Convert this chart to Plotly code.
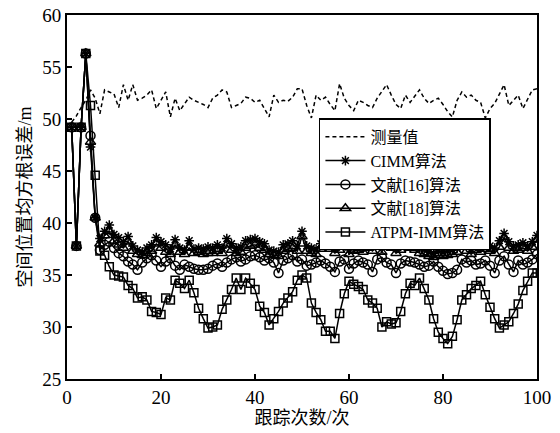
import plotly.graph_objects as go

x = list(range(1, 101))

measured = [49.7, 50.3, 51.1, 51.8, 52.8, 52.0, 50.5, 52.8, 52.6, 52.4,
            51.1, 53.3, 51.8, 53.3, 51.8, 52.0, 52.3, 52.8, 51.0, 51.8,
            52.6, 50.2, 52.0, 50.8, 51.5, 52.1, 51.8, 51.6, 51.4, 51.1,
            52.0, 52.3, 52.8, 52.6, 51.1, 51.3, 51.5, 52.1, 52.0, 51.6,
            51.8, 51.0, 50.2, 52.3, 51.6, 51.8, 51.7, 52.1, 52.9, 52.9,
            51.3, 50.1, 52.3, 51.8, 52.1, 51.4, 50.8, 53.4, 52.0, 51.3,
            50.8, 51.8, 51.6, 51.3, 51.1, 52.0, 52.7, 53.3, 52.3, 51.4,
            51.0, 52.3, 51.6, 52.2, 52.8, 52.0, 51.5, 51.8, 52.0, 51.4,
            50.7, 50.2, 51.8, 52.6, 52.1, 52.3, 51.8, 51.6, 50.1, 51.0,
            51.5, 52.4, 53.3, 51.3, 51.8, 52.3, 51.0, 51.9, 52.8, 52.9]

cimm = [49.2, 37.8, 49.2, 56.3, 47.3, 40.5, 38.5, 39.2, 39.8, 38.9,
        38.6, 38.2, 38.7, 37.8, 37.4, 37.2, 37.6, 37.9, 38.6, 38.2,
        37.9, 37.5, 38.4, 37.6, 37.4, 38.3, 37.5, 37.6, 37.5, 37.7,
        37.6, 37.9, 37.6, 38.5, 38.0, 37.6, 37.7, 38.3, 38.4, 38.5,
        38.2, 38.0, 37.4, 37.3, 37.2, 37.9, 38.0, 38.3, 37.8, 39.2,
        37.8, 37.6, 37.5, 38.0, 38.4, 38.1, 37.6, 38.0, 39.3, 37.4,
        37.8, 38.0, 37.7, 38.2, 37.9, 38.5, 37.7, 38.6, 38.3, 37.6,
        38.0, 38.3, 38.2, 37.9, 37.6, 37.5, 37.2, 37.1, 37.3, 37.2,
        37.3, 37.4, 37.6, 38.9, 37.8, 37.5, 37.9, 37.6, 38.0, 37.8,
        37.6, 38.3, 39.0, 38.2, 37.8, 37.9, 38.1, 37.8, 38.2, 38.8]

ref16 = [49.2, 37.8, 49.2, 56.3, 48.4, 40.5, 37.4, 37.9, 38.2, 37.6,
         37.1, 36.8, 36.3, 36.0, 35.5, 36.2, 36.6, 36.9, 36.4, 35.8,
         36.3, 36.6, 35.9, 35.5, 36.0, 35.8, 35.6, 35.5, 35.5, 35.6,
         35.9, 36.1, 35.8, 36.2, 36.5, 36.7, 36.3, 36.5, 36.8, 36.9,
         36.7, 36.4, 36.6, 36.2, 35.2, 36.4, 36.6, 36.9, 36.3, 36.5,
         35.9, 36.0, 36.2, 36.4, 36.1, 35.8, 35.3, 36.3, 36.5, 35.6,
         36.1, 36.4, 36.2, 36.0, 35.3, 36.5, 36.7, 36.2, 36.0, 35.2,
         36.1, 36.4, 36.3, 36.2, 36.0, 35.8, 35.9, 36.3, 35.8, 35.4,
         35.1, 35.2, 35.5, 36.5, 36.2, 36.4, 36.0, 36.1, 36.4, 35.9,
         35.2, 36.4, 36.8, 36.0, 35.3, 36.4, 36.0, 36.2, 36.5, 37.0]

ref18 = [49.2, 37.8, 49.2, 56.3, 47.8, 40.5, 38.0, 38.8, 39.2, 38.3,
         37.9, 37.6, 38.2, 37.3, 37.0, 36.9, 37.1, 37.3, 38.0, 37.6,
         37.2, 37.0, 37.9, 37.2, 37.0, 37.6, 37.1, 37.2, 37.0, 37.1,
         37.1, 37.3, 37.1, 37.9, 37.4, 37.1, 37.2, 37.6, 37.8, 37.9,
         37.6, 37.4, 37.0, 36.9, 36.8, 37.3, 37.5, 37.6, 37.3, 38.7,
         37.3, 37.1, 37.0, 37.5, 37.7, 37.5, 37.1, 37.4, 38.8, 37.0,
         37.3, 37.4, 37.2, 37.6, 37.3, 37.8, 37.2, 38.2, 37.6, 37.1,
         37.4, 37.7, 37.6, 37.4, 37.1, 37.0, 36.8, 36.7, 36.9, 36.8,
         36.9, 37.0, 37.2, 38.5, 37.3, 37.0, 37.4, 37.2, 37.5, 37.3,
         37.1, 37.7, 38.6, 37.6, 37.3, 37.4, 37.6, 37.3, 37.7, 38.4]

atpm = [49.2, 37.8, 49.2, 56.3, 51.3, 44.6, 37.3, 36.9, 35.8, 35.0,
        34.9, 34.8, 34.0, 33.7, 32.8, 32.9, 32.6, 31.5, 31.4, 31.2,
        32.8, 32.6, 34.5, 34.2, 33.7, 34.5, 33.3, 31.8, 30.8, 29.9,
        30.0, 30.2, 31.7, 32.6, 33.6, 34.7, 33.6, 34.7, 34.2, 33.6,
        32.0, 31.4, 30.2, 30.8, 31.5, 32.3, 32.8, 33.4, 34.5, 35.0,
        34.7, 32.3, 31.4, 30.7, 29.6, 29.6, 28.9, 31.3, 33.2, 34.4,
        34.1, 33.9, 33.6, 32.6, 32.3, 31.8, 30.0, 30.5, 30.3, 30.4,
        31.5, 33.2, 34.2, 34.0, 34.7, 33.7, 32.6, 30.8, 29.5, 28.9,
        28.4, 29.1, 30.7, 32.6, 33.1, 33.7, 34.0, 34.4, 33.1, 31.9,
        30.8, 29.9, 30.2, 30.5, 31.3, 32.2, 33.5, 34.4, 35.2, 35.2]

names = ["测量值", "CIMM算法", "文献[16]算法", "文献[18]算法", "ATPM-IMM算法"]
x_ticks = [0, 20, 40, 60, 80, 100]
y_ticks = [25, 30, 35, 40, 45, 50, 55, 60]

FONT = "Liberation Serif, Times New Roman, Noto Sans CJK SC"

fig = go.Figure()
fig.add_trace(go.Scatter(x=x, y=measured, name=names[0], mode="lines",
                         line=dict(color="black", width=1.5, dash="4px,3px")))
fig.add_trace(go.Scatter(x=x, y=cimm, name=names[1], mode="lines+markers",
                         line=dict(color="black", width=1.5),
                         marker=dict(symbol="asterisk-open", size=8, color="black",
                                     line=dict(color="black", width=1.5))))
fig.add_trace(go.Scatter(x=x, y=ref16, name=names[2], mode="lines+markers",
                         line=dict(color="black", width=1.5),
                         marker=dict(symbol="circle-open", size=9, color="black",
                                     line=dict(color="black", width=1.5))))
fig.add_trace(go.Scatter(x=x, y=ref18, name=names[3], mode="lines+markers",
                         line=dict(color="black", width=1.5),
                         marker=dict(symbol="triangle-up-open", size=9, color="black",
                                     line=dict(color="black", width=1.5))))
fig.add_trace(go.Scatter(x=x, y=atpm, name=names[4], mode="lines+markers",
                         line=dict(color="black", width=1.5),
                         marker=dict(symbol="square-open", size=8, color="black",
                                     line=dict(color="black", width=1.5))))

fig.update_layout(
    width=560, height=433,
    margin=dict(l=67, r=23, t=15, b=54, autoexpand=False),
    paper_bgcolor="white", plot_bgcolor="white",
    font=dict(family=FONT, size=19, color="black"),
    showlegend=True,
    legend=dict(x=0.536, y=0.716, xanchor="left", yanchor="top",
                bgcolor="white", bordercolor="black", borderwidth=1.5,
                font=dict(family=FONT, size=16, color="black"),
                tracegroupgap=0, itemwidth=40),
)
fig.update_xaxes(range=[0, 100], tickvals=x_ticks, ticks="inside", ticklen=5,
                 tickwidth=1.5, tickcolor="black", showline=True, linecolor="black",
                 linewidth=2, mirror=True, showgrid=False, zeroline=False,
                 automargin=False,
                 title=dict(text="跟踪次数/次", font=dict(family=FONT, size=18), standoff=4))
fig.update_yaxes(range=[25, 60], tickvals=y_ticks, ticks="inside", ticklen=5,
                 tickwidth=1.5, tickcolor="black", showline=True, linecolor="black",
                 linewidth=2, mirror=True, showgrid=False, zeroline=False,
                 automargin=False,
                 title=dict(text="空间位置均方根误差/m", font=dict(family=FONT, size=18), standoff=6))

fig.write_html("out.html", config={"displayModeBar": False})

# remove the default page margin so the figure sits at the window's top-left corner
with open("out.html", "r", encoding="utf-8") as f:
    html = f.read()
html = html.replace("<body>", '<body style="margin:0;overflow:hidden">', 1)
with open("out.html", "w", encoding="utf-8") as f:
    f.write(html)
